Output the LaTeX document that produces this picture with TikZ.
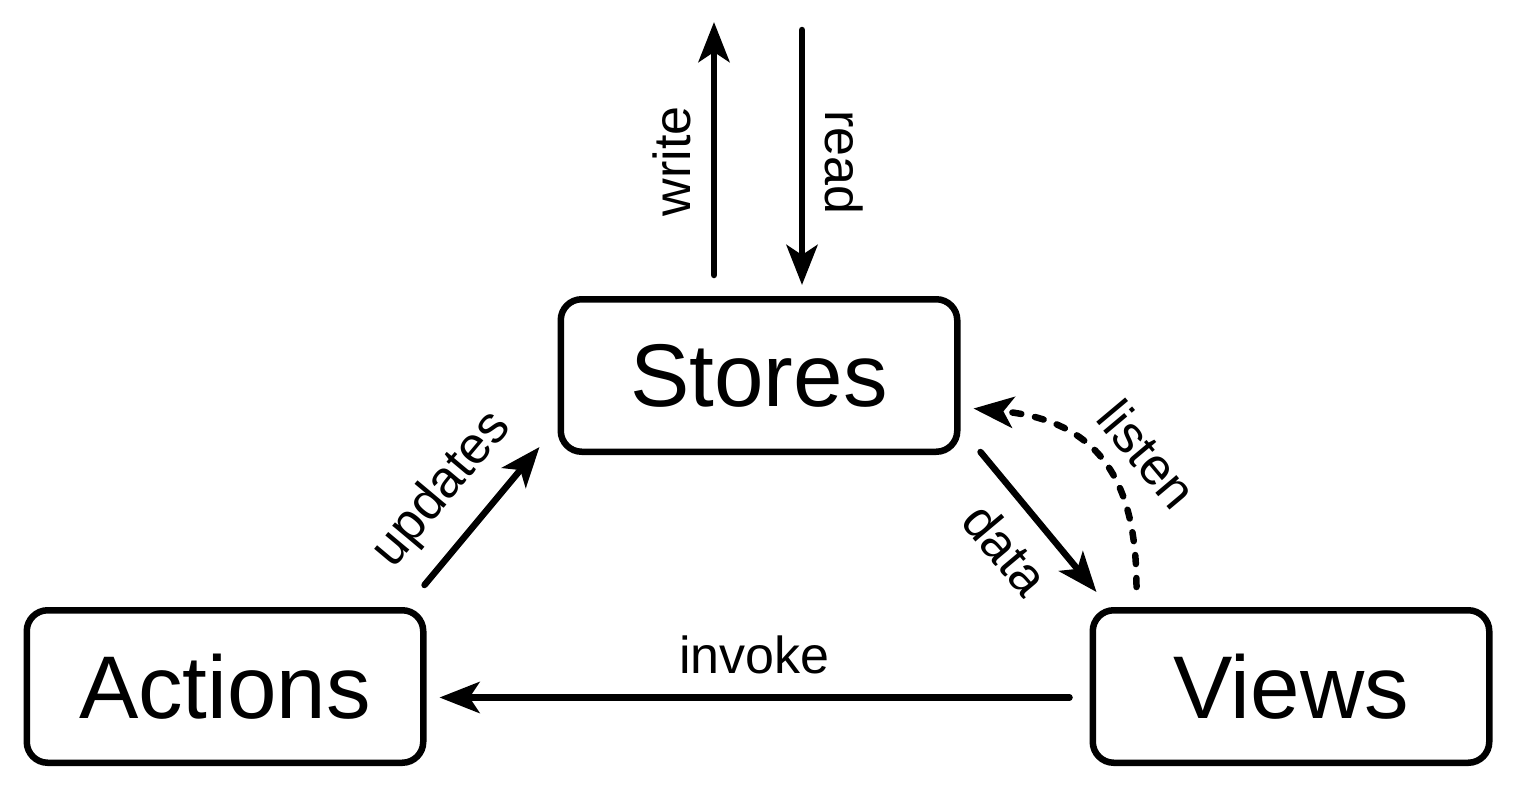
\documentclass[tikz,border=0pt]{standalone}
\usepackage{fontspec}
\setmainfont{Liberation Sans}
\usetikzlibrary{arrows.meta, positioning}

\begin{document}
\begin{tikzpicture}[x=1pt, y=1pt, node distance=100pt,
    box/.style={rectangle, draw, line width=6.5pt, rounded corners=21pt, minimum width=396.5pt, minimum height=152.5pt, inner sep=0pt, font=\fontsize{89}{100}\selectfont},
    arrow/.style={-{Stealth[length=40pt, width=31pt, inset=10pt]}, line width=6.5pt, line cap=round},
    listenarrow/.style={arrow, dash pattern=on 9pt off 14pt},
    lbl/.style={inner sep=20pt, font=\fontsize{52}{60}\selectfont}]

    \useasboundingbox (0,0) rectangle (1518,-790);

    \node (stores) [box] at (759,-375.5) {Stores};
    \node (actions) [box, below left=152pt and 131pt of stores] {Actions};
    \node (views) [box, right=663pt of actions] {Views};

    \coordinate (wtip) at (714,-22);
    \coordinate (rstart) at (802,-30);

    \draw [arrow] ([shift={(-45pt,21pt)}]stores.north) -- node[lbl, pos=0.45, above, rotate=90] {write} (wtip);
    \draw [arrow] (rstart) -- node[lbl, pos=0.52, above, rotate=-90] {read} ([shift={(43pt,11pt)}]stores.north);
    \draw [arrow] ([shift={(-2pt,22pt)}]actions.north east) -- node[lbl, pos=0.47, above, rotate=50] {updates} ([shift={(-18pt,8pt)}]stores.south west);
    \draw [arrow] ([shift={(20pt,3pt)}]stores.south east) -- node[lbl, midway, below, rotate=-50] {data} ([shift={(7pt,15pt)}]views.north west);
    \draw [listenarrow] ([shift={(47pt,20pt)}]views.north west) .. controls +(0,107) and +(125,-12) .. node[lbl, pos=0.4, anchor=south, rotate=-50] {listen} ([shift={(13pt,-33pt)}]stores.east);
    \draw [arrow] ([shift={(-20pt,-11pt)}]views.west) -- node[lbl, midway, above] {invoke} ([shift={(13pt,-11pt)}]actions.east);

\end{tikzpicture}
\end{document}
